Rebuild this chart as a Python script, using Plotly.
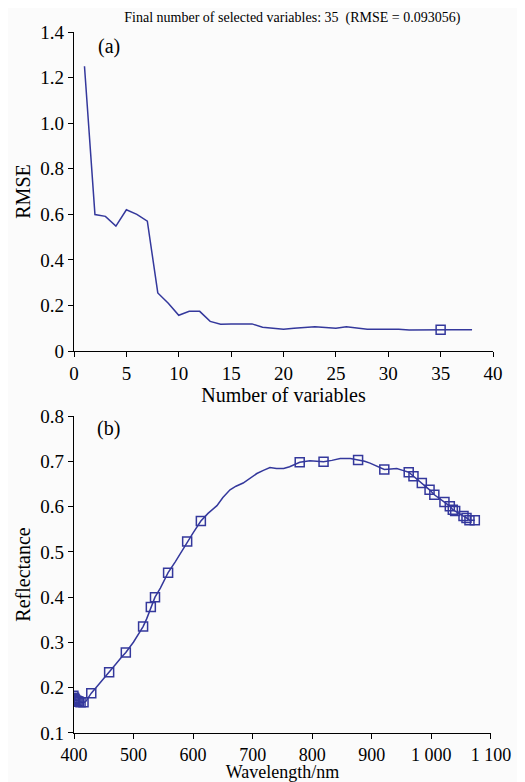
import plotly.graph_objects as go

# Panel (a): RMSE versus number of variables
n_vars = list(range(1, 39))
rmse = [1.25, 0.599, 0.591, 0.548, 0.620, 0.600, 0.570, 0.255, 0.210, 0.157,
        0.174, 0.174, 0.130, 0.118, 0.119, 0.119, 0.119, 0.104, 0.100, 0.096,
        0.100, 0.104, 0.106, 0.103, 0.100, 0.106, 0.100, 0.096, 0.096, 0.096,
        0.096, 0.092, 0.093, 0.093, 0.093, 0.093, 0.093, 0.093]
sel_n = [35]
sel_rmse = [0.093]

# Panel (b): spectrum
wl = [399, 402, 405, 410, 416, 420, 429, 440, 450, 459, 470, 480, 487, 500,
      510, 516, 522, 529, 536, 545, 558, 570, 580, 590, 600, 613, 625, 640,
      650, 662, 672, 684, 696, 707, 718, 729, 740, 752, 762, 770, 779, 796,
      810, 819, 833, 847, 864, 877, 888, 897, 910, 921, 932, 942, 952, 962,
      970, 984, 997, 1005, 1014, 1022, 1031, 1036, 1040, 1047, 1054, 1059,
      1064, 1073]
refl = [0.180, 0.174, 0.171, 0.169, 0.167, 0.170, 0.188, 0.205, 0.220, 0.234,
        0.252, 0.268, 0.278, 0.301, 0.322, 0.335, 0.352, 0.378, 0.400, 0.420,
        0.454, 0.478, 0.500, 0.523, 0.542, 0.568, 0.585, 0.602, 0.620, 0.637,
        0.645, 0.652, 0.664, 0.673, 0.680, 0.686, 0.684, 0.684, 0.688, 0.693,
        0.698, 0.701, 0.700, 0.699, 0.702, 0.706, 0.706, 0.703, 0.700, 0.696,
        0.688, 0.682, 0.683, 0.684, 0.680, 0.676, 0.667, 0.652, 0.637, 0.626,
        0.618, 0.610, 0.601, 0.593, 0.590, 0.584, 0.579, 0.575, 0.570, 0.570]
sel_wl = [399, 400, 401, 402, 404, 406, 408, 411, 416, 429, 459, 487, 516,
          529, 536, 558, 590, 613, 779, 819, 877, 921, 962, 970, 984, 997,
          1005, 1022, 1031, 1036, 1040, 1054, 1059, 1064, 1073]
sel_refl = [0.182, 0.178, 0.175, 0.173, 0.171, 0.170, 0.169, 0.168, 0.168,
            0.188, 0.234, 0.278, 0.335, 0.378, 0.400, 0.454, 0.523, 0.568,
            0.698, 0.699, 0.703, 0.682, 0.676, 0.667, 0.652, 0.637, 0.626,
            0.610, 0.601, 0.593, 0.590, 0.579, 0.575, 0.570, 0.570]

x2_ticks = [400, 500, 600, 700, 800, 900, 1000, 1100]
x2_ticktext = ["400", "500", "600", "700", "800", "900", "1 000", "1 100"]

COLOR = "#34389c"
FONT = "Liberation Serif, Times New Roman, Times, serif"

fig = go.Figure()
fig.add_trace(go.Scatter(x=n_vars, y=rmse, mode="lines",
                         line=dict(color=COLOR, width=1.5),
                         xaxis="x", yaxis="y", showlegend=False))
fig.add_trace(go.Scatter(x=sel_n, y=sel_rmse, mode="markers",
                         marker=dict(symbol="square-open", size=9, color=COLOR,
                                     line=dict(width=1.5, color=COLOR)),
                         xaxis="x", yaxis="y", showlegend=False))
fig.add_trace(go.Scatter(x=wl, y=refl, mode="lines",
                         line=dict(color=COLOR, width=1.5),
                         xaxis="x2", yaxis="y2", showlegend=False))
fig.add_trace(go.Scatter(x=sel_wl, y=sel_refl, mode="markers",
                         marker=dict(symbol="square-open", size=9, color=COLOR,
                                     line=dict(width=1.5, color=COLOR)),
                         xaxis="x2", yaxis="y2", showlegend=False))

axis_common = dict(showline=True, linecolor="black", linewidth=1.2,
                   ticks="outside", ticklen=5, tickwidth=1.2, tickcolor="black",
                   showgrid=False, zeroline=False, mirror=False, automargin=False)
tf = dict(family=FONT, size=19, color="black")

fig.update_layout(
    width=517, height=774,
    margin=dict(l=66, r=32, t=24, b=49, autoexpand=False),
    paper_bgcolor="#fbfbfb", plot_bgcolor="#fbfbfb",
    font=dict(family=FONT, color="black"),
    title=dict(text="Final number of selected variables: 35  (RMSE = 0.093056)",
               x=0.55, xanchor="center", y=0.988, yanchor="middle",
               font=dict(family=FONT, size=14, color="black")),
    xaxis=dict(domain=[0, 1], anchor="y", range=[0, 40], tickvals=list(range(0, 41, 5)),
               tickfont=tf,
               title=dict(text="Number of variables", font=dict(family=FONT, size=20),
                          standoff=0),
               **axis_common),
    yaxis=dict(domain=[0.5449, 1.0], anchor="x", range=[0, 1.4],
               tickvals=[0, 0.2, 0.4, 0.6, 0.8, 1.0, 1.2, 1.4],
               ticktext=["0", "0.2", "0.4", "0.6", "0.8", "1.0", "1.2", "1.4"],
               tickfont=tf,
               title=dict(text="RMSE", font=dict(family=FONT, size=20), standoff=4),
               **axis_common),
    xaxis2=dict(domain=[0, 0.995], anchor="y2", range=[400, 1100],
                tickvals=x2_ticks, ticktext=x2_ticktext,
                tickfont=dict(family=FONT, size=18, color="black"),
                title=dict(text="Wavelength/nm", font=dict(family=FONT, size=18),
                           standoff=7),
                **axis_common),
    yaxis2=dict(domain=[0, 0.4522], anchor="x2", range=[0.1, 0.8],
                tickvals=[0.1, 0.2, 0.3, 0.4, 0.5, 0.6, 0.7, 0.8],
                ticktext=["0.1", "0.2", "0.3", "0.4", "0.5", "0.6", "0.7", "0.8"],
                tickfont=tf,
                title=dict(text="Reflectance", font=dict(family=FONT, size=20), standoff=4),
                **axis_common),
    annotations=[
        dict(text="(a)", xref="x domain", yref="y domain", x=0.052, y=0.955,
             xanchor="left", yanchor="middle", showarrow=False,
             font=dict(family=FONT, size=20, color="black")),
        dict(text="(b)", xref="x2 domain", yref="y2 domain", x=0.050, y=0.96,
             xanchor="left", yanchor="middle", showarrow=False,
             font=dict(family=FONT, size=20, color="black")),
    ],
)

fig.write_html("out.html")
